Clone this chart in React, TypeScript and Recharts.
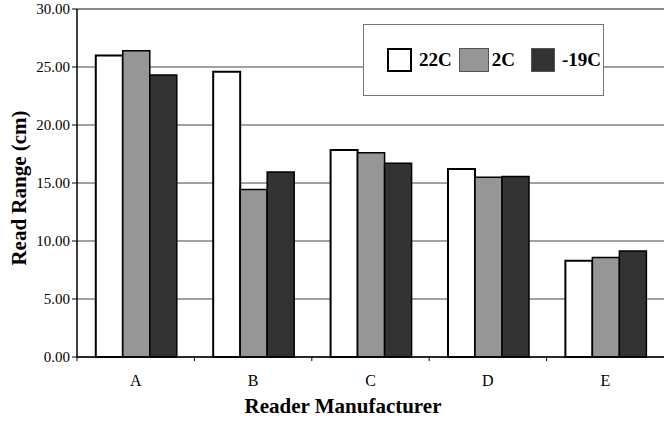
import React from "react";
import {
  BarChart,
  Bar,
  XAxis,
  YAxis,
  CartesianGrid,
  ReferenceLine,
} from "recharts";

const manufacturers = ["A", "B", "C", "D", "E"];
const temp22C = [26.0, 24.6, 17.85, 16.2, 8.3];
const temp2C = [26.4, 14.45, 17.6, 15.5, 8.58];
const tempMinus19C = [24.3, 15.95, 16.7, 15.55, 9.13];
const yTicks = [0, 5, 10, 15, 20, 25, 30];

const series = [
  { key: "t22", name: "22C", fill: "#FFFFFF", width: 25 },
  { key: "t2", name: "2C", fill: "#969696", width: 30 },
  { key: "tm19", name: "-19C", fill: "#333333", width: 24 },
];

const data = manufacturers.map((m, i) => ({
  name: m,
  t22: temp22C[i],
  t2: temp2C[i],
  tm19: tempMinus19C[i],
}));

const serif = "Liberation Serif, Times New Roman, serif";

function CategoryTick(props: any) {
  const { x, y, payload } = props;
  const half = payload.offset || 0;
  // y comes in below the axis by tickSize + tickMargin
  const axisY = y - 8;
  return (
    <g>
      <line x1={x - half} x2={x - half} y1={axisY} y2={axisY + 4} stroke="#000" strokeWidth={1} />
      <text x={x} y={y + 21} textAnchor="middle" fontFamily={serif} fontSize={16} fill="#000">
        {payload.value}
      </text>
    </g>
  );
}

function LegendBox() {
  return (
    <div
      style={{
        position: "absolute",
        left: 363,
        top: 24,
        width: 241,
        height: 72,
        border: "1.5px solid #777",
        background: "#fff",
        display: "flex",
        alignItems: "center",
        paddingLeft: 23,
        boxSizing: "border-box",
        fontFamily: serif,
        fontWeight: "bold",
        fontSize: 19,
        color: "#000",
      }}
    >
      {series.map((s, i) => (
        <div key={s.key} style={{ display: "flex", alignItems: "center" }}>
          <span
            style={{
              display: "inline-block",
              width: s.width,
              height: 24,
              background: s.fill,
              border: i === 0 ? "2px solid #000" : "1.5px solid #555",
              boxSizing: "border-box",
              marginRight: i === 1 ? 3 : 7,
            }}
          />
          <span style={{ marginRight: i === 1 ? 16 : 7 }}>{s.name}</span>
        </div>
      ))}
    </div>
  );
}

export default function App() {
  return (
    <div style={{ position: "absolute", left: 0, top: 0, width: 664, height: 421, background: "#fff" }}>
      <BarChart
        width={664}
        height={421}
        data={data}
        margin={{ top: 9, right: 0, left: 0, bottom: 0 }}
        barCategoryGap="16%"
        barGap={0}
      >
        <CartesianGrid horizontal vertical={false} stroke="#444" strokeWidth={1} />
        <ReferenceLine y={30} stroke="#888" strokeWidth={2} />
        <XAxis
          dataKey="name"
          height={64}
          axisLine={{ stroke: "#000", strokeWidth: 1.5 }}
          tickLine={false}
          tick={<CategoryTick />}
          interval={0}
          label={(p: any) => {
            const vb = p.viewBox;
            return (
              <text
                x={343}
                y={vb.y + vb.height - 8}
                textAnchor="middle"
                fontFamily={serif}
                fontWeight="bold"
                fontSize={21}
                fill="#000"
              >
                Reader Manufacturer
              </text>
            );
          }}
        />
        <YAxis
          width={77}
          domain={[0, 30]}
          ticks={yTicks}
          interval={0}
          axisLine={{ stroke: "#000", strokeWidth: 1.5 }}
          tickLine={{ stroke: "#000" }}
          tickSize={5}
          tickFormatter={(v: number) => v.toFixed(2)}
          tick={{ fontFamily: serif, fontSize: 15, fill: "#000" }}
          label={(p: any) => {
            const vb = p.viewBox;
            const cy = vb.y + vb.height / 2 + 5;
            return (
              <text
                x={26}
                y={cy}
                transform={`rotate(-90 26 ${cy})`}
                textAnchor="middle"
                fontFamily={serif}
                fontWeight="bold"
                fontSize={21}
                fill="#000"
              >
                Read Range (cm)
              </text>
            );
          }}
        />
        {series.map((s, i) => (
          <Bar
            key={s.key}
            dataKey={s.key}
            name={s.name}
            fill={s.fill}
            stroke="#000"
            strokeWidth={i === 0 ? 2 : 1.5}
            isAnimationActive={false}
          />
        ))}
      </BarChart>
      <LegendBox />
    </div>
  );
}
